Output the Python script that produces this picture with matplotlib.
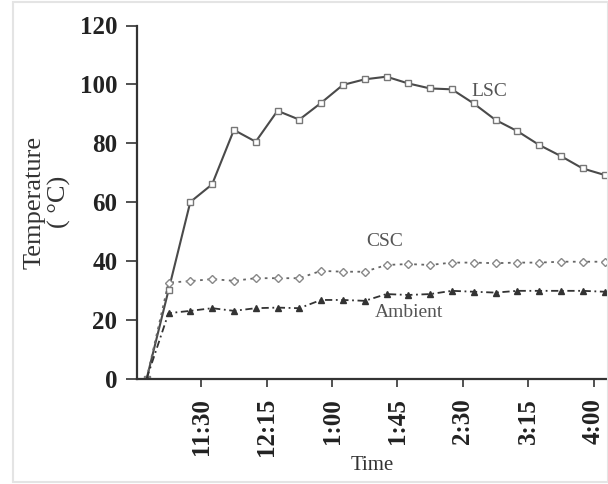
import matplotlib
matplotlib.use("Agg")
import matplotlib.pyplot as plt
from matplotlib.patches import Rectangle

# ---- data ----
idx = list(range(22))
lsc = [0, 30, 60, 66, 84.5, 80.5, 91, 88, 93.7, 99.8, 101.7, 102.6, 100.3, 98.6, 98.3,
       93.5, 87.9, 84.1, 79.4, 75.6, 71.4, 69.2]
csc = [0, 32.6, 33.1, 33.8, 33.2, 34.1, 34.1, 34.1, 36.6, 36.3, 36.3, 38.6, 38.9, 38.6,
       39.4, 39.4, 39.2, 39.4, 39.4, 39.7, 39.7, 39.7]
ambient = [0, 22.2, 23.0, 23.9, 23.0, 23.9, 24.1, 23.9, 26.7, 26.7, 26.4, 28.7, 28.4, 28.7,
           29.8, 29.5, 29.2, 29.8, 29.8, 29.8, 29.8, 29.5]
tick_pos = [2.5, 5.5, 8.5, 11.5, 14.5, 17.5, 20.5]
tick_labels = ["11:30", "12:15", "1:00", "1:45", "2:30", "3:15", "4:00"]
y_ticks = [0, 20, 40, 60, 80, 100, 120]

W, H = 608, 484
fig = plt.figure(figsize=(W / 100, H / 100), dpi=100)
fig.patch.set_facecolor("white")
fig.patches.append(Rectangle((13 / W, 2 / H), 1 - 13 / W, 1 - 4 / H, transform=fig.transFigure,
                             fill=False, edgecolor="#e4e4e4", lw=1.5))

left, right = 136.7 / W, 1.0
bottom, top = (H - 378.5) / H, (H - 25.5) / H
ax = fig.add_axes([left, bottom, right - left, top - bottom])

serif = ["Liberation Serif", "DejaVu Serif"]

ax.plot(idx, lsc, color="#4a4a4a", lw=1.5, marker="s", ms=5, mfc="white",
        mec="#777777", mew=1.0)
ax.plot(idx, csc, color="#666666", lw=1.3, ls=(0, (1.5, 2.5)), marker="D", ms=4.5,
        mfc="white", mec="#888888", mew=1.0)
ax.plot(idx, ambient, color="#333333", lw=1.3, ls=(0, (4, 2, 1, 2)), marker="^", ms=5,
        mfc="#333333", mec="#333333")

ax.set_xlim(-0.459, 21.16)
ax.set_ylim(0, 120)

for s in ["top", "right"]:
    ax.spines[s].set_visible(False)
for s in ["left", "bottom"]:
    ax.spines[s].set_color("#333333")
    ax.spines[s].set_linewidth(1.6)

ax.set_yticks(y_ticks)
ax.set_yticklabels([str(v) for v in y_ticks], fontfamily=serif, fontweight="bold", fontsize=18)
ax.set_xticks(tick_pos)
ax.set_xticklabels(tick_labels, rotation=90, fontfamily=serif, fontweight="bold", fontsize=18)
ax.tick_params(axis="y", direction="out", length=8, width=1.2, pad=6, colors="#333333",
               labelcolor="#222222")
ax.tick_params(axis="x", direction="out", length=6, width=1.2, pad=8, colors="#333333",
               labelcolor="#222222")

ax.set_ylabel("Temperature\n( °C)", fontfamily=serif, fontsize=19, color="#333333",
              labelpad=6, linespacing=1.15)
ax.set_xlabel("Time", fontfamily=serif, fontsize=15, color="#333333", labelpad=0)

ax.text(15.7, 97.5, "LSC", fontfamily=serif, fontsize=14, color="#555555",
        ha="center", va="center")
ax.text(10.9, 46.5, "CSC", fontfamily=serif, fontsize=14, color="#555555",
        ha="center", va="center")
ax.text(12.05, 22.5, "Ambient", fontfamily=serif, fontsize=14, color="#555555",
        ha="center", va="center")

fig.savefig("out.png", dpi=100)
